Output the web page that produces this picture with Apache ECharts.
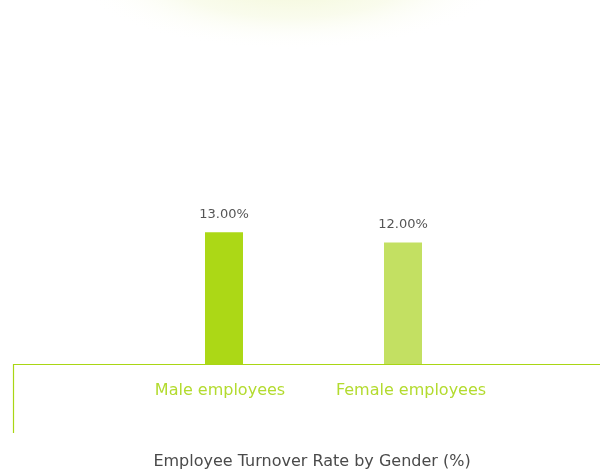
<!DOCTYPE html>
<html>
<head>
<meta charset="utf-8">
<script src="https://cdn.jsdelivr.net/npm/echarts@6/dist/echarts.min.js"></script>
<style>
  html, body { margin: 0; padding: 0; background: #fff; }
  #chart { width: 600px; height: 471px; }
</style>
</head>
<body>
<div id="chart"></div>
<script>
// Turnover rate by gender, in percent
var categories = ['Male employees', 'Female employees'];
var turnoverRates = [13.0, 12.0];
var barColors = ['#acd816', '#c3e062'];

var chart = echarts.init(document.getElementById('chart'), null, { renderer: 'canvas' });

var fontFamily = '"DejaVu Sans", "Open Sans", sans-serif';
var frameColor = '#a9d614';

chart.setOption({
  backgroundColor: '#ffffff',
  animation: false,
  title: {
    text: 'Employee Turnover Rate by Gender (%)',
    left: 307,
    top: 449,
    textAlign: 'center',
    textStyle: { color: '#4a4a4a', fontSize: 16, fontWeight: 'normal', fontFamily: fontFamily }
  },
  graphic: [{
    // soft glow along the top edge
    type: 'circle',
    z: -1,
    x: 290,
    y: -22,
    scaleX: 3.0,
    scaleY: 1,
    shape: { cx: 0, cy: 0, r: 72 },
    style: {
      fill: new echarts.graphic.RadialGradient(0.5, 0.5, 0.5, [
        { offset: 0, color: 'rgba(238,245,200,0.8)' },
        { offset: 0.55, color: 'rgba(245,249,222,0.55)' },
        { offset: 1, color: 'rgba(255,255,255,0)' }
      ])
    }
  }, {
    // frame: baseline under the bars
    type: 'line',
    shape: { x1: 13, y1: 364.5, x2: 600, y2: 364.5 },
    style: { stroke: frameColor, lineWidth: 1.2 }
  }, {
    // frame: left edge
    type: 'line',
    shape: { x1: 13.5, y1: 364, x2: 13.5, y2: 433 },
    style: { stroke: frameColor, lineWidth: 1.2 }
  }],
  grid: { left: 134.5, right: 107.5, top: 60, bottom: 107 },
  xAxis: {
    type: 'category',
    data: categories,
    axisLine: { show: false },
    axisTick: { show: false },
    axisLabel: {
      interval: 0,
      margin: 19,
      color: '#b3db2f',
      fontSize: 16,
      fontFamily: fontFamily,
      formatter: function (v, i) { return '{c' + i + '|' + v + '}'; },
      rich: {
        c0: { padding: [0, 8, 0, 0], color: '#b3db2f', fontSize: 16, fontFamily: fontFamily },
        c1: { padding: [0, 0, 0, 16], color: '#b3db2f', fontSize: 16, fontFamily: fontFamily }
      }
    }
  },
  yAxis: {
    type: 'value',
    min: 0,
    max: 30,
    show: false
  },
  series: [{
    type: 'bar',
    barWidth: 38,
    data: turnoverRates.map(function (v, i) {
      return { value: v, itemStyle: { color: barColors[i] } };
    }),
    label: {
      show: true,
      position: 'top',
      distance: 11,
      color: '#555555',
      fontSize: 13,
      fontFamily: fontFamily,
      formatter: function (p) { return p.value.toFixed(2) + '%'; }
    }
  }]
});
</script>
</body>
</html>
